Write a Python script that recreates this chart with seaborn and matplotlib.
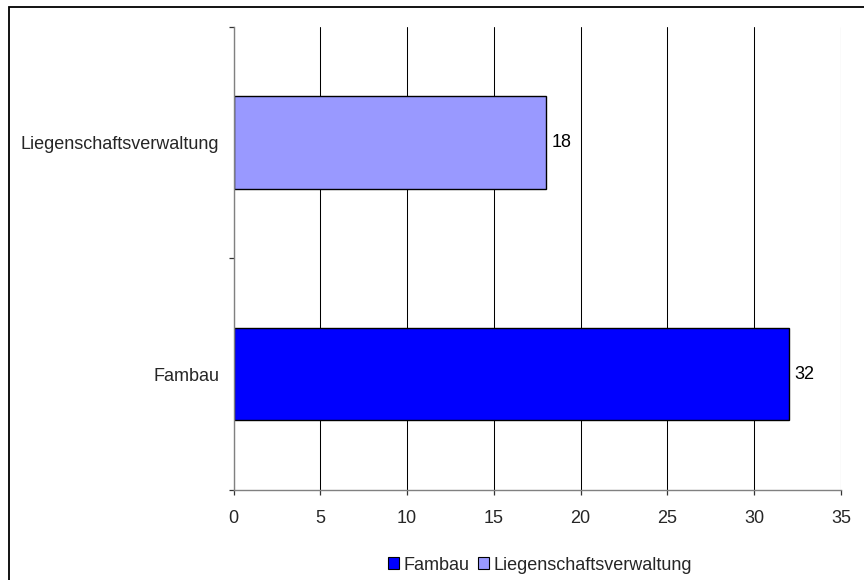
import matplotlib
matplotlib.use("Agg")
import matplotlib.pyplot as plt
import seaborn as sns
import pandas as pd
from matplotlib.patches import Patch, Rectangle

categories = ["Liegenschaftsverwaltung", "Fambau"]
values = [18, 32]
legend_order = ["Fambau", "Liegenschaftsverwaltung"]
colors = {"Fambau": "#0000FF", "Liegenschaftsverwaltung": "#9999FF"}
x_ticks = [0, 5, 10, 15, 20, 25, 30, 35]

sns.set_style("white")
plt.rcParams["font.family"] = ["Liberation Sans", "DejaVu Sans"]
FS = 13.0

df = pd.DataFrame({"cat": categories, "val": values})

fig = plt.figure(figsize=(8.64, 5.8), dpi=100)
ax = fig.add_axes([233.6 / 864, 1 - 490 / 580, (841 - 233.6) / 864, (490 - 26.6) / 580])

sns.barplot(data=df, y="cat", x="val", hue="cat", order=categories,
            palette=colors, saturation=1, dodge=False, width=0.4, edgecolor="black",
            linewidth=1.0, legend=False, ax=ax, zorder=3)

for c in ax.containers:
    ax.bar_label(c, padding=4, fontsize=FS, color="black")

ax.set_xlim(0, 35)
ax.set_ylim(1.5, -0.5)
ax.set_xticks(x_ticks)
ax.set_xticklabels([str(t) for t in x_ticks], fontsize=FS)
ax.set_yticks([0, 1])
ax.set_yticklabels(categories, fontsize=FS)
ax.set_yticks([-0.5, 0.5, 1.5], minor=True)
ax.tick_params(axis="y", which="major", length=0, pad=10.5)
ax.tick_params(axis="y", which="minor", length=3.6, width=0.9, color="#333333", direction="out", left=True)
ax.tick_params(axis="x", length=3.6, width=0.9, color="#333333", direction="out", pad=10.5, bottom=True)
ax.set_xlabel("")
ax.set_ylabel("")

ax.grid(axis="x", color="black", linewidth=0.75, zorder=0)
ax.grid(axis="y", visible=False)
ax.set_axisbelow(True)
for s in ["top", "right"]:
    ax.spines[s].set_visible(False)
for s in ["left", "bottom"]:
    ax.spines[s].set_color("#808080")
    ax.spines[s].set_linewidth(1.0)
    ax.spines[s].set_zorder(4)

handles = [Patch(facecolor=colors[k], edgecolor="black", linewidth=0.8, label=k) for k in legend_order]
fig.legend(handles=handles, loc="center", bbox_to_anchor=(540 / 864, 1 - 565 / 580),
           ncol=2, frameon=False, fontsize=FS, handlelength=0.6, handleheight=0.6,
           handletextpad=0.25, columnspacing=0.5, borderaxespad=0)

fig.patches.append(Rectangle((9 / 864, -0.1), 1.2, 1.1 - 7 / 580, transform=fig.transFigure,
                             fill=False, edgecolor="black", linewidth=1.3, zorder=10))

fig.savefig("out.png", dpi=100)
